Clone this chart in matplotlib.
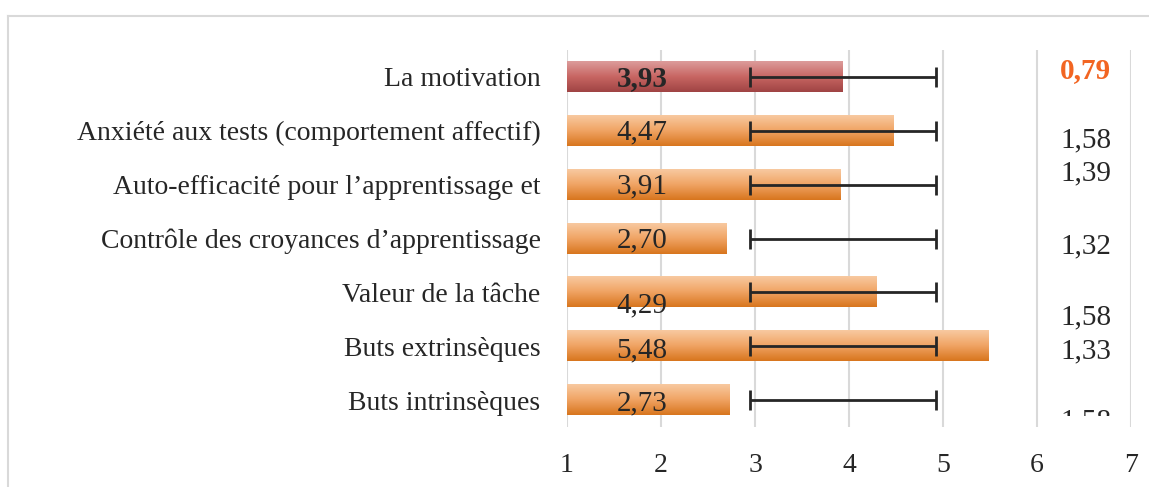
import matplotlib
matplotlib.use("Agg")
import matplotlib.pyplot as plt
import numpy as np
from matplotlib.lines import Line2D
from matplotlib.patches import Rectangle
from matplotlib.colors import LinearSegmentedColormap

plt.rcParams['font.family'] = ['Liberation Serif', 'DejaVu Serif']

categories = ["La motivation",
              "Anxiété aux tests (comportement affectif)",
              "Auto-efficacité pour l’apprentissage et",
              "Contrôle des croyances d’apprentissage",
              "Valeur de la tâche",
              "Buts extrinsèques",
              "Buts intrinsèques"]
means = [3.93, 4.47, 3.91, 2.70, 4.29, 5.48, 2.73]
mean_labels = ["3,93", "4,47", "3,91", "2,70", "4,29", "5,48", "2,73"]
err_center = [3.94] * 7
err_half = [0.99] * 7
sd_labels = ["0,79", "1,58", "1,39", "1,32", "1,58", "1,33", "1,58"]
xticks = [1, 2, 3, 4, 5, 6, 7]

# layout (label offsets in row units)
mean_label_dy = [0.03, 0.03, 0.03, 0.03, 0.24, 0.08, 0.06]
sd_label_y = [-0.12, 1.17, 1.80, 3.15, 4.47, 5.10, 6.40]

W, H = 1149, 487
fig = plt.figure(figsize=(W / 100, H / 100), dpi=100)
ax = fig.add_axes([567 / W, 1 - 427 / H, (1131 - 567) / W, (427 - 50) / H])

n = len(categories)
y = np.arange(n)
ax.set_xlim(1, 7)
ax.set_ylim(n - 0.5, -0.5)

orange = LinearSegmentedColormap.from_list("o", ["#F8C9A0", "#F0A464", "#D8761E"])
red = LinearSegmentedColormap.from_list("r", ["#DC9C9B", "#C86663", "#A04444"])
grad = np.linspace(0, 1, 64).reshape(-1, 1)
bh = 0.56
for i, v in enumerate(means):
    cmap = red if i == 0 else orange
    ax.imshow(grad, cmap=cmap, aspect='auto', interpolation='bilinear',
              extent=(1, v, i + bh / 2, i - bh / 2), zorder=2)

for x in xticks:
    ax.axvline(x, color="#D9D9D9", lw=1.5, zorder=1)

ax.errorbar(err_center, y, xerr=err_half, fmt='none', ecolor="#262626",
            elinewidth=2, capsize=7, capthick=2, zorder=3)

for i, lab in enumerate(mean_labels):
    ax.text(1.8, i + mean_label_dy[i], lab, ha='center', va='center',
            fontsize=21, color="#262626", fontweight='bold' if i == 0 else 'normal',
            zorder=4)

clip = Rectangle((1, -0.5), 6, 6.8, transform=ax.transData)
for i, lab in enumerate(sd_labels):
    t = ax.text(6.52, sd_label_y[i], lab, ha='center', va='center', fontsize=21,
                color="#F26522" if i == 0 else "#262626",
                fontweight='bold' if i == 0 else 'normal', zorder=4, clip_on=True)
    t.set_clip_path(clip)

ax.set_yticks(y)
ax.set_yticklabels(categories, fontsize=20, color="#262626")
ax.set_xticks(xticks)
ax.set_xticklabels([str(t) for t in xticks], fontsize=20, color="#262626")
ax.tick_params(axis='y', length=0, pad=19)
ax.tick_params(axis='x', length=0, pad=19)
for s in ax.spines.values():
    s.set_visible(False)
ax.set_ylim(n - 0.5, -0.5)

fig.add_artist(Line2D([8 / W, 1], [1 - 16 / H, 1 - 16 / H], color="#D9D9D9", lw=1.5))
fig.add_artist(Line2D([8 / W, 8 / W], [0, 1 - 16 / H], color="#D9D9D9", lw=1.5))

fig.savefig("out.png", dpi=100, facecolor="white")
